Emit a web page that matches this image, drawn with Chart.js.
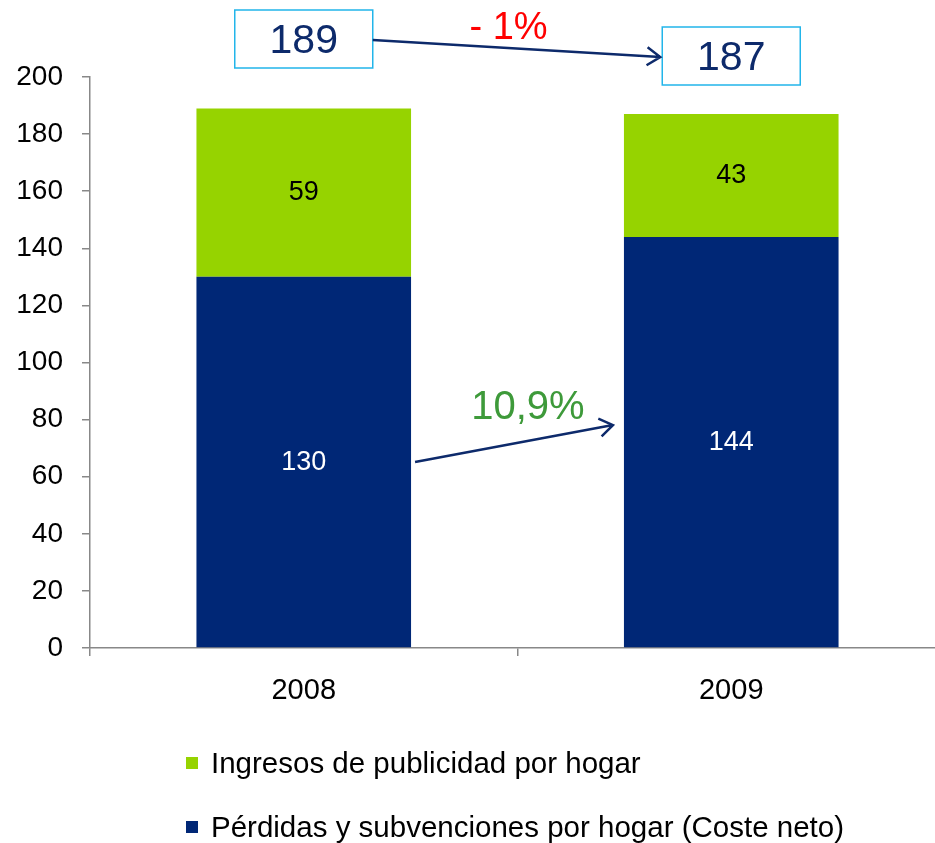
<!DOCTYPE html>
<html>
<head>
<meta charset="utf-8">
<script src="https://cdn.jsdelivr.net/npm/chart.js@4"></script>
<style>
  body { margin: 0; overflow: hidden; background: #fff; }
</style>
</head>
<body>
<canvas id="chart" width="945" height="843"></canvas>
<script>
const years = ["2008", "2009"];
const perdidas = [130, 144];
const ingresos = [59, 43];
const perdidasLabel = "Pérdidas y subvenciones por hogar (Coste neto)";
const ingresosLabel = "Ingresos de publicidad por hogar";
const totalChange = "- 1%";
const costChange = "10,9%";

const navy = "#002776";
const green = "#96d300";
const font = "'Liberation Sans', Arial, sans-serif";

function drawArrow(ctx, x1, y1, x2, y2) {
    const angle = Math.atan2(y2 - y1, x2 - x1);
    const head = 16;
    ctx.save();
    ctx.strokeStyle = "#0d2a6b";
    ctx.lineWidth = 2.5;
    ctx.beginPath();
    ctx.moveTo(x1, y1);
    ctx.lineTo(x2, y2);
    ctx.moveTo(x2 - head * Math.cos(angle - 0.6), y2 - head * Math.sin(angle - 0.6));
    ctx.lineTo(x2, y2);
    ctx.lineTo(x2 - head * Math.cos(angle + 0.6), y2 - head * Math.sin(angle + 0.6));
    ctx.stroke();
    ctx.restore();
}

const annotations = {
    id: "annotations",
    afterDatasetsDraw(chart) {
        const ctx = chart.ctx;
        const blue = chart.getDatasetMeta(0).data;
        const lime = chart.getDatasetMeta(1).data;

        // values inside the bars
        ctx.save();
        ctx.font = "27px " + font;
        ctx.textAlign = "center";
        ctx.textBaseline = "middle";
        blue.forEach((bar, i) => {
            ctx.fillStyle = "#fff";
            ctx.fillText(perdidas[i], bar.x, (bar.y + bar.base) / 2);
        });
        lime.forEach((bar, i) => {
            ctx.fillStyle = "#000";
            ctx.fillText(ingresos[i], bar.x, (bar.y + bar.base) / 2);
        });
        ctx.restore();

        // total boxes
        const totals = years.map((y, i) => perdidas[i] + ingresos[i]);
        const boxW = 138, boxH = 58;
        const boxTops = [10, 27];
        ctx.save();
        ctx.font = "41px " + font;
        ctx.textAlign = "center";
        ctx.textBaseline = "middle";
        totals.forEach((t, i) => {
            const x = blue[i].x - boxW / 2;
            ctx.fillStyle = "#fff";
            ctx.fillRect(x, boxTops[i], boxW, boxH);
            ctx.strokeStyle = "#22b5ea";
            ctx.lineWidth = 1.5;
            ctx.strokeRect(x, boxTops[i], boxW, boxH);
            ctx.fillStyle = "#0d2a6b";
            ctx.fillText(t, blue[i].x, boxTops[i] + boxH / 2 + 3);
        });
        ctx.restore();

        drawArrow(ctx, blue[0].x + boxW / 2, boxTops[0] + 30, blue[1].x - boxW / 2 - 2, boxTops[1] + 30);

        ctx.save();
        ctx.font = "38px " + font;
        ctx.textAlign = "center";
        ctx.textBaseline = "middle";
        ctx.fillStyle = "#ff0000";
        ctx.fillText(totalChange, (blue[0].x + blue[1].x) / 2 - 9, 29);
        ctx.restore();

        // change of net cost
        const half = blue[0].width / 2;
        const y1 = (blue[0].y + blue[0].base) / 2;
        const y2 = (blue[1].y + blue[1].base) / 2;
        drawArrow(ctx, blue[0].x + half + 4, y1, blue[1].x - half - 11, y2 - 17);
        ctx.save();
        ctx.font = "40px " + font;
        ctx.textAlign = "center";
        ctx.textBaseline = "middle";
        ctx.fillStyle = "#3e9a3a";
        ctx.fillText(costChange, blue[1].x - half - 96, y2 - 34);
        ctx.restore();
    },
    afterDraw(chart) {
        const ctx = chart.ctx;
        const items = chart.data.datasets.slice().reverse();
        ctx.save();
        ctx.font = "29.5px " + font;
        ctx.textAlign = "left";
        ctx.textBaseline = "middle";
        items.forEach((ds, i) => {
            const y = 763 + i * 64;
            ctx.fillStyle = ds.backgroundColor;
            ctx.fillRect(186, y - 6, 12, 12);
            ctx.fillStyle = "#000";
            ctx.fillText(ds.label, 211, y + 2);
        });
        ctx.restore();
    }
};

new Chart(document.getElementById("chart"), {
    type: "bar",
    data: {
        labels: years,
        datasets: [
            { label: perdidasLabel, data: perdidas, backgroundColor: navy },
            { label: ingresosLabel, data: ingresos, backgroundColor: green }
        ]
    },
    options: {
        responsive: false,
        animation: false,
        layout: { padding: { top: 77, right: 0, left: 0, bottom: 0 } },
        datasets: { bar: { barPercentage: 0.502, categoryPercentage: 1 } },
        plugins: { legend: { display: false }, tooltip: { enabled: false } },
        scales: {
            x: {
                stacked: true,
                afterFit(scale) { scale.height = 195; },
                grid: { offset: true, drawOnChartArea: false, tickLength: 8, color: "#888", lineWidth: 1.5 },
                border: { color: "#888", width: 1.5 },
                ticks: { color: "#000", font: { family: font, size: 29 }, padding: 18 }
            },
            y: {
                stacked: true,
                min: 0,
                max: 200,
                afterFit(scale) { scale.width = 90; },
                grid: { drawOnChartArea: false, tickLength: 8, color: "#888", lineWidth: 1.5 },
                border: { color: "#888", width: 1.5 },
                ticks: { stepSize: 20, color: "#000", font: { family: font, size: 28 }, padding: 19 }
            }
        }
    },
    plugins: [annotations]
});
</script>
</body>
</html>
